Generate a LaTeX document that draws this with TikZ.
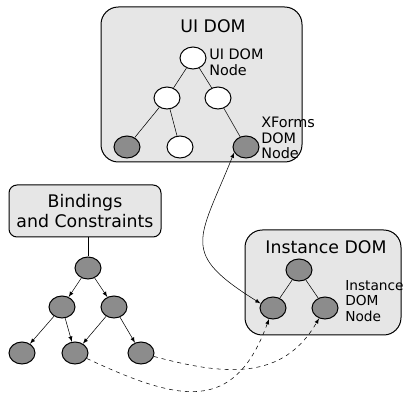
\documentclass[tikz,border=0pt]{standalone}
\usepackage{fontspec}
\setmainfont{DejaVu Sans}
\usetikzlibrary{shapes.geometric}
\definecolor{boxgray}{RGB}{230,230,230}
\definecolor{nodegray}{RGB}{140,140,140}

\begin{document}
\begin{tikzpicture}[x=0.75pt,y=-0.75pt,>=latex,
  dombox/.style={draw,fill=boxgray,line width=0.75pt,rounded corners=13pt,inner sep=0pt},
  domnode/.style={draw,ellipse,line width=0.75pt,inner sep=0pt,minimum width=19.5pt,minimum height=16.5pt},
  whitenode/.style={domnode,fill=white},
  graynode/.style={domnode,fill=nodegray},
  titletext/.style={font=\fontsize{13}{15}\selectfont},
  nodetext/.style={font=\fontsize{10.8}{11.8}\selectfont,align=left,anchor=west,inner sep=0pt}]
\useasboundingbox (0,0) rectangle (404,395);

% UI DOM
\node[dombox,minimum width=150.75pt,minimum height=116.25pt] (uibox) at (201.5,84.5) {};
\node[titletext] (uititle) at (213,26) {UI DOM};
\node[whitenode] (uiroot) at (193,58) {};
\node[whitenode] (uil) at (167,98) {};
\node[whitenode] (uir) at (218,98) {};
\node[graynode] (uill) at (127,147) {};
\node[whitenode] (uilr) at (180,147) {};
\node[graynode] (uirr) at (246,147) {};
\draw (uiroot) -- (uil);
\draw (uiroot) -- (uir);
\draw (uil) -- (uill);
\draw (uil) -- (uilr);
\draw (uir) -- (uirr);
\node[nodetext] (uilabel) at (209,62) {UI DOM\\Node};
\node[nodetext] (xflabel) at (261,138) {XForms\\DOM\\Node};

% Bindings and Constraints
\node[dombox,rounded corners=6pt,minimum width=114pt,minimum height=39pt,align=center,titletext] (bcbox) at (85,211) {Bindings\\and Constraints};
\node[graynode] (broot) at (88,268) {};
\node[graynode] (bl) at (62,307) {};
\node[graynode] (br) at (114,307) {};
\node[graynode] (bll) at (22,353) {};
\node[graynode] (bm) at (75,353) {};
\node[graynode] (brr) at (141,353) {};
\draw (bcbox.south -| broot) -- (broot);
\draw[->] (broot) -- (bl);
\draw[->] (broot) -- (br);
\draw[->] (bl) -- (bll);
\draw[->] (bl) -- (bm);
\draw[->] (br) -- (bm);
\draw[->] (br) -- (brr);

% Instance DOM
\node[dombox,minimum width=117pt,minimum height=78.75pt] (instbox) at (323,282.5) {};
\node[titletext] (insttitle) at (326,247) {Instance DOM};
\node[graynode] (instroot) at (299,270) {};
\node[graynode] (instl) at (273,308) {};
\node[graynode] (instr) at (325,308) {};
\draw (instroot) -- (instl);
\draw (instroot) -- (instr);
\node[nodetext,font=\fontsize{10.3}{11.5}\selectfont] (instlabel) at (345,301) {Instance\\DOM\\Node};

% links
\draw[<->] (uirr.205) to[out=-112,in=148,looseness=1.6] (instl.160);
\draw[->,dashed] (bm) to[out=-25,in=-110,looseness=1.4] (instl);
\draw[->,dashed] (brr) to[out=-15,in=-120,looseness=1.1] (instr);

\end{tikzpicture}
\end{document}
